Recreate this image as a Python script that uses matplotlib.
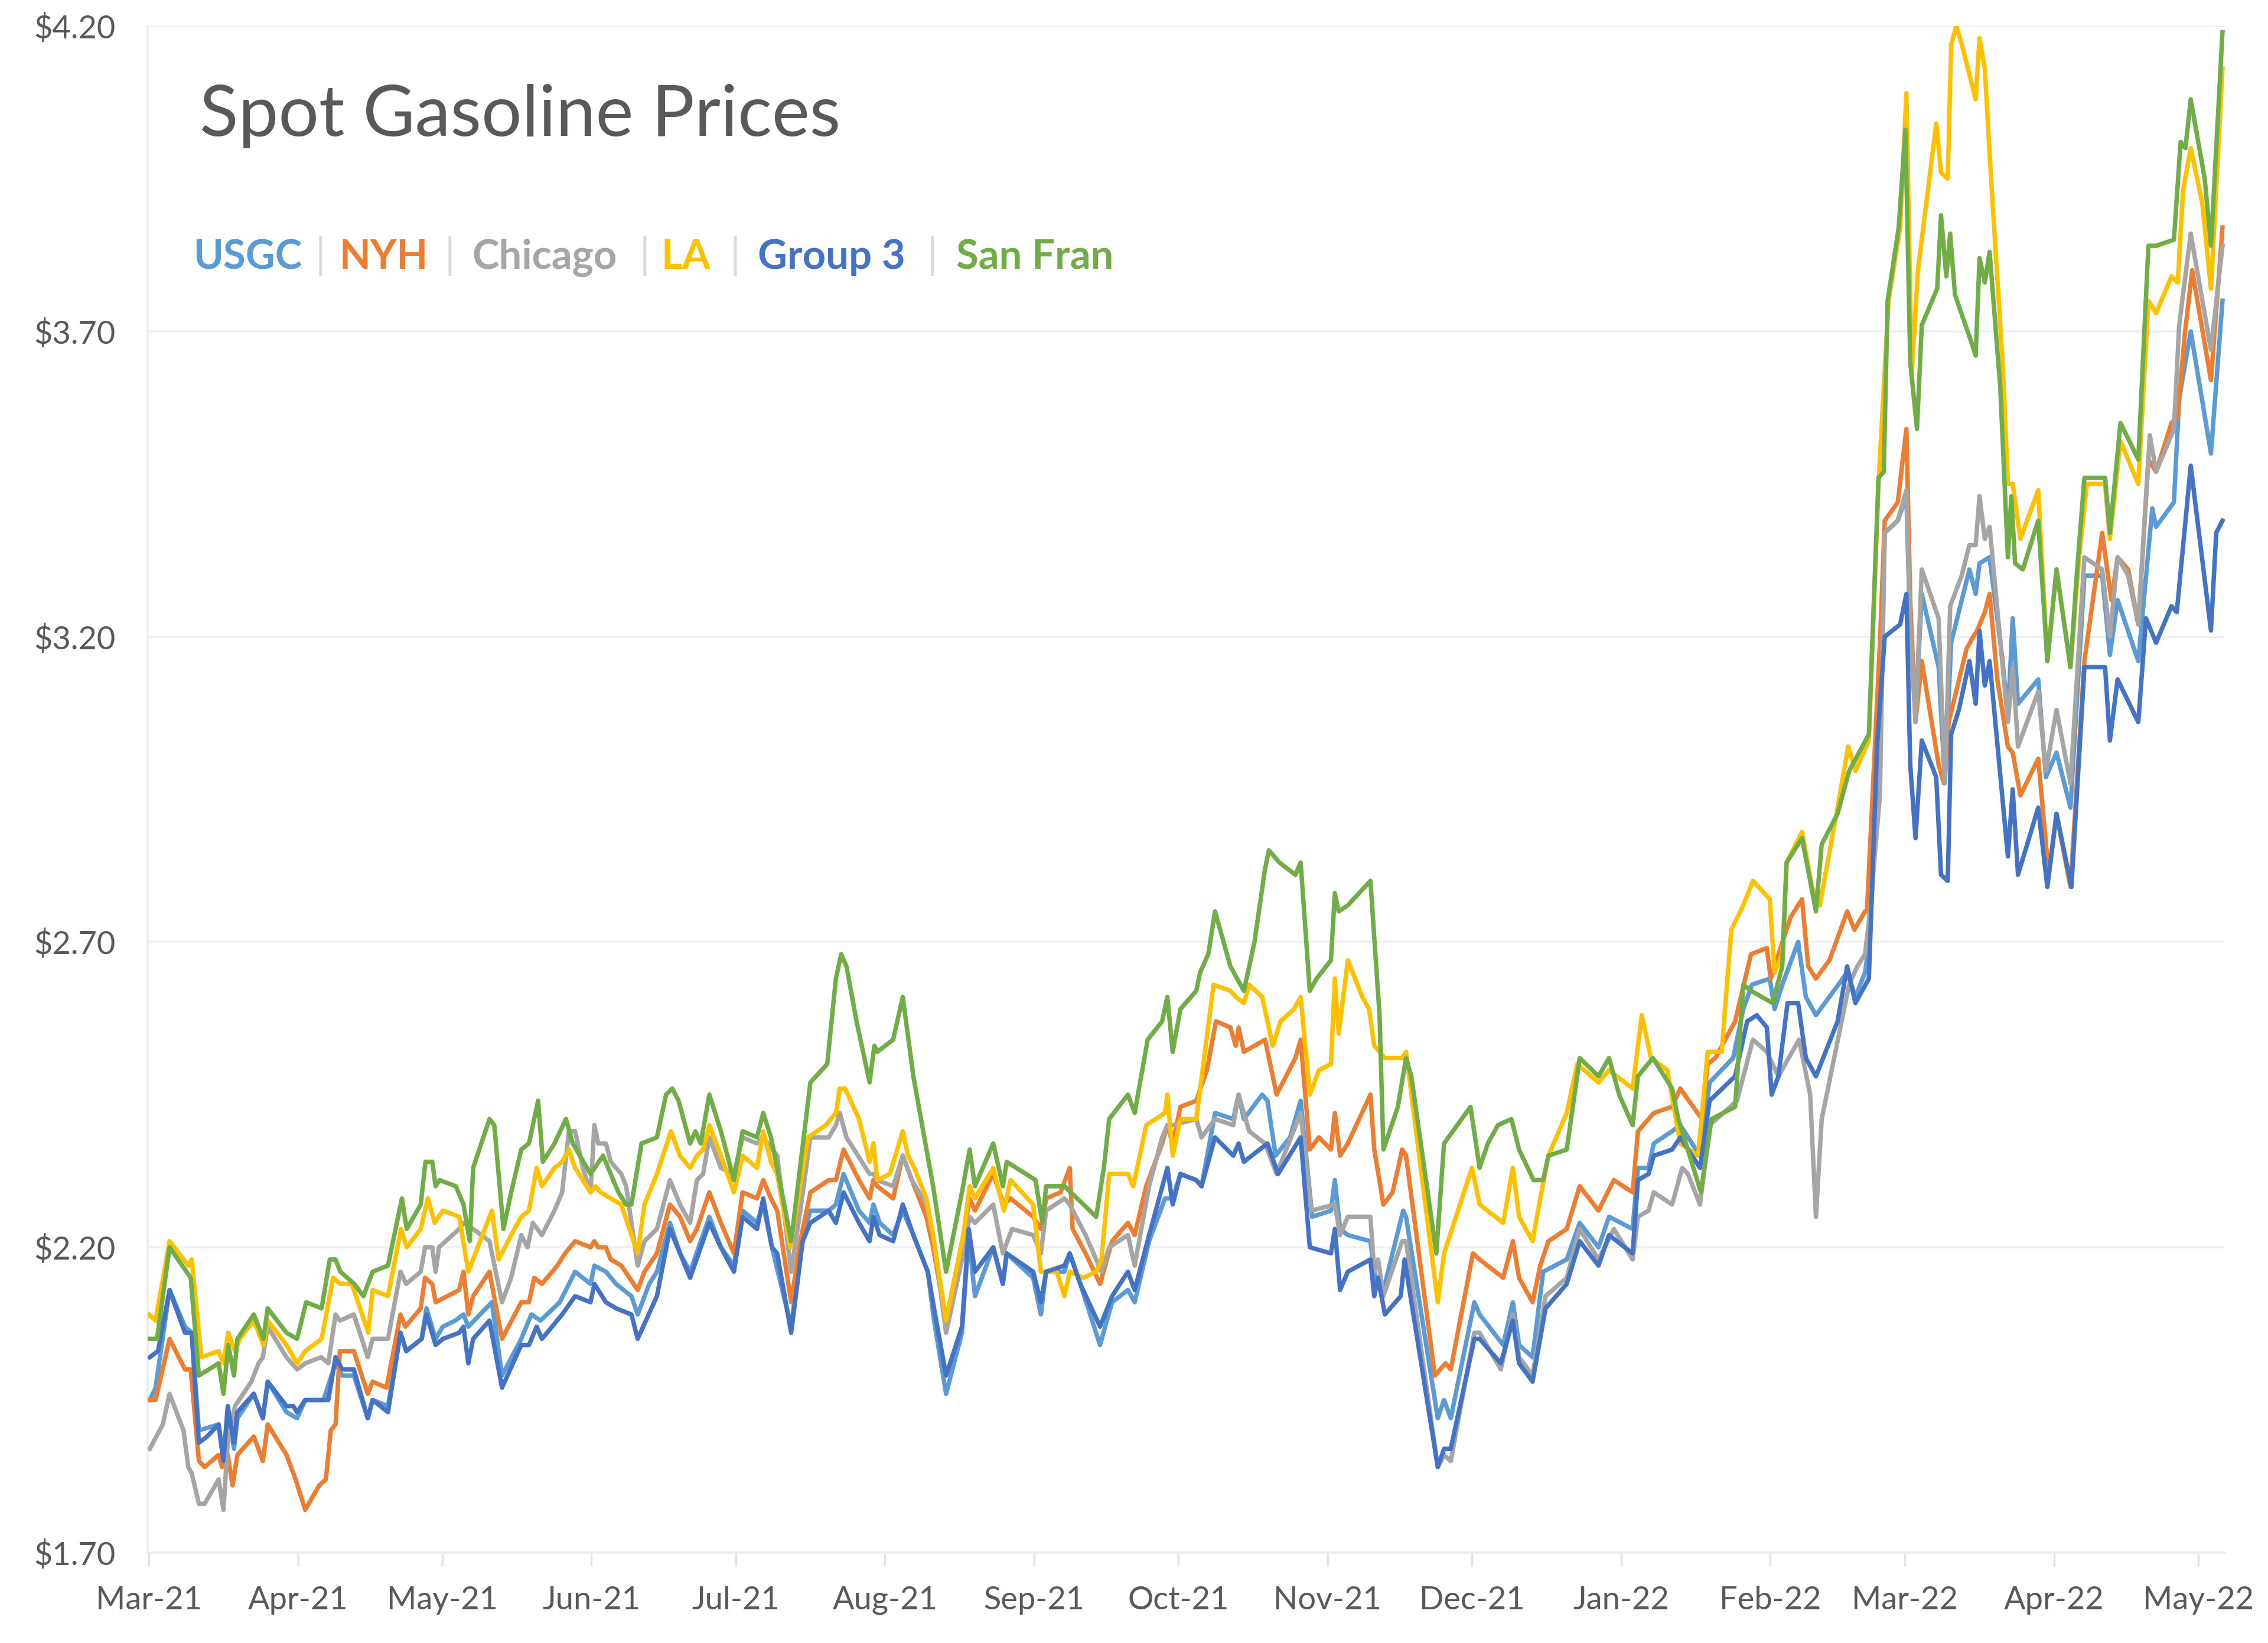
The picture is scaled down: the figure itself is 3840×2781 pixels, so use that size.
import numpy as np
import pandas as pd
import matplotlib
matplotlib.use("Agg")
from matplotlib import pyplot as plt
import matplotlib.dates as mdates
from matplotlib.ticker import FuncFormatter

# days after 2021-03-01, price in $/gal
usgc_day = [0.2, 1.4, 4.3, 7.5, 8.9, 10.4, 14.5, 15.5, 16.4, 17.7, 18.4, 21.8, 23.7, 24.7, 28.6, 30.8, 32.5, 36.3, 38.8, 40.2,
            42.6, 45.5, 46.5, 49.7, 52.3, 53.5, 56.7, 57.7, 59.6, 61.1, 63.7, 65.4, 66.4, 71.3, 73.4,
            77.4, 79.5, 81.4, 85.4, 88.6, 91.8, 92.6, 95.0, 97.1, 100.3, 101.6, 104.0, 105.6, 108.3, 110.4, 112.5, 116.5, 118.9, 121.6, 123.4,
            126.4, 127.7, 129.5, 133.5, 135.9, 137.5, 141.3, 142.8, 144.4, 147.6, 149.8, 150.6, 151.9,
            154.7, 156.7, 158.9, 161.9, 163.2, 165.7, 169.0, 170.4, 171.7, 175.5, 177.5, 178.3, 183.8, 185.4, 186.5, 190.3, 191.4, 193.6, 197.7, 200.2,
            203.5, 204.9, 207.9, 211.2, 212.8, 214.4, 217.7, 218.8, 221.6, 225.4, 226.5, 227.6, 231.4, 232.5, 234.2,
            237.2, 239.4, 241.8, 245.7, 246.5, 247.6, 249.2, 253.9, 254.7, 256.3, 260.7, 261.3, 267.9, 269.2, 270.6, 275.5, 276.6, 281.5, 283.5, 284.8,
            287.6, 289.8, 294.7, 297.4, 301.3, 303.5, 308.4, 309.5, 311.7, 312.8, 316.6,
            318.3, 322.4, 324.4, 329.3, 331.4, 333.2, 336.9, 337.9, 339.5, 342.8, 344.4, 346.5, 353.0, 354.7, 356.7,
            357.6, 359.8, 360.8, 363.5, 365.3, 366.1, 367.2, 368.5, 372.0, 373.3, 374.6, 378.4, 379.7, 380.5, 382.6, 385.3, 386.4, 387.4, 388.5, 392.7,
            394.3, 396.5, 399.4, 402.3, 406.0, 407.6, 409.2, 413.5, 416.4, 417.2, 420.9, 422.0, 424.4, 428.6, 431.0]
usgc_px = [1.95, 1.97, 2.13, 2.07, 2.06, 1.90, 1.91, 1.85, 1.93, 1.87, 1.92, 1.96, 1.92, 1.98, 1.93, 1.92, 1.95, 1.95, 2.01, 1.99,
           1.99, 1.92, 1.95, 1.94, 2.06, 2.03, 2.05, 2.10, 2.05, 2.07, 2.08, 2.09, 2.07, 2.11, 1.99,
           2.05, 2.09, 2.08, 2.11, 2.16, 2.14, 2.17, 2.16, 2.14, 2.12, 2.09, 2.14, 2.16, 2.24, 2.19, 2.16, 2.25, 2.20, 2.17, 2.26,
           2.24, 2.27, 2.20, 2.07, 2.22, 2.26, 2.26, 2.27, 2.32, 2.26, 2.24, 2.27, 2.24,
           2.22, 2.26, 2.22, 2.16, 2.08, 1.96, 2.06, 2.22, 2.12, 2.20, 2.14, 2.19, 2.15, 2.09, 2.16, 2.16, 2.19, 2.14, 2.04, 2.11,
           2.13, 2.11, 2.21, 2.28, 2.28, 2.32, 2.31, 2.30, 2.42, 2.41, 2.45, 2.41, 2.45, 2.44, 2.35,
           2.38, 2.44, 2.25, 2.26, 2.31, 2.23, 2.22, 2.21, 2.16, 2.12, 2.26, 2.25, 1.92, 1.95, 1.92, 2.11, 2.09, 2.04, 2.11, 2.04,
           2.02, 2.16, 2.18, 2.24, 2.20, 2.25, 2.23, 2.33, 2.33, 2.37, 2.39,
           2.40, 2.35, 2.47, 2.51, 2.59, 2.63, 2.64, 2.59, 2.63, 2.70, 2.61, 2.58, 2.65, 2.61, 2.65,
           2.70, 3.02, 3.37, 3.39, 3.43, 3.21, 3.07, 3.27, 3.15, 2.96, 3.19, 3.31, 3.27, 3.32, 3.33, 3.16, 3.07, 3.23, 3.09, 3.13,
           2.97, 3.01, 2.92, 3.30, 3.30, 3.17, 3.26, 3.16, 3.41, 3.38, 3.42, 3.59, 3.70, 3.50, 3.75]

nyh_day = [0.2, 1.4, 4.3, 7.5, 8.7, 10.4, 11.6, 14.5, 15.2, 16.4, 17.4, 18.4, 21.8, 23.7, 24.7, 28.6, 30.5, 32.5, 35.4, 36.8,
           37.8, 38.8, 39.7, 42.6, 45.5, 46.5, 49.4, 52.3, 53.3, 56.5, 57.4, 58.9, 59.6, 64.5, 65.4, 66.4, 67.4, 70.8, 73.4,
           77.4, 79.0, 80.1, 81.7, 84.9, 86.5, 88.6, 91.8, 92.6, 93.4, 95.0, 96.0, 98.2, 101.6, 103.0, 105.6, 108.3, 110.4, 112.5, 113.9,
           116.5, 118.9, 121.6, 123.4, 126.4, 127.7, 129.3, 130.6, 133.5, 135.4, 137.5, 141.3, 142.8, 144.4, 147.6, 149.8, 150.6, 151.4,
           154.7, 156.7, 158.6, 161.6, 163.0, 165.7, 169.3, 170.6, 171.7, 175.5, 177.7, 179.1, 183.8, 185.4, 186.5, 189.5, 191.4, 192.0, 194.7, 197.7,
           200.2, 203.5, 204.9, 207.3, 210.6, 211.7, 212.8, 214.4, 217.7, 219.9, 221.8, 224.8, 225.9, 226.5, 227.6, 232.0, 234.4,
           238.3, 239.4, 241.3, 243.2, 245.7, 246.5, 247.6, 249.2, 253.9, 254.7, 256.6, 258.5, 260.5, 261.3, 267.3, 269.5, 270.6, 275.2, 276.6, 281.5,
           283.5, 284.8, 287.6, 289.2, 290.9, 294.7, 297.4, 301.3, 304.5, 308.4, 309.5, 311.7, 312.8, 316.6,
           318.3, 322.8, 324.0, 325.6, 329.7, 333.0, 336.3, 337.1, 341.2, 343.6, 344.9, 346.5, 349.3, 353.0, 354.5, 356.7,
           357.1, 359.8, 360.8, 363.5, 365.3, 366.1, 367.2, 368.5, 372.0, 373.1, 374.1, 377.8, 379.2, 380.0, 381.6, 382.6, 384.2, 386.4, 387.4, 389.0,
           392.7, 394.9, 396.5, 399.4, 402.3, 406.0, 407.9, 409.2, 411.4, 413.5, 415.6, 417.2, 420.4, 421.7, 423.1, 424.7, 428.6, 431.0]
nyh_px = [1.95, 1.95, 2.05, 2.00, 2.00, 1.85, 1.84, 1.86, 1.84, 1.86, 1.81, 1.86, 1.89, 1.85, 1.91, 1.86, 1.82, 1.77, 1.81, 1.82,
          1.90, 1.91, 2.03, 2.03, 1.96, 1.98, 1.97, 2.09, 2.07, 2.10, 2.15, 2.14, 2.11, 2.13, 2.16, 2.09, 2.12, 2.16, 2.05,
          2.11, 2.11, 2.15, 2.14, 2.17, 2.19, 2.21, 2.20, 2.21, 2.20, 2.20, 2.18, 2.17, 2.13, 2.16, 2.19, 2.27, 2.25, 2.21, 2.23,
          2.29, 2.24, 2.19, 2.29, 2.28, 2.31, 2.28, 2.26, 2.11, 2.21, 2.29, 2.31, 2.31, 2.36, 2.31, 2.28, 2.31, 2.30,
          2.28, 2.35, 2.31, 2.25, 2.20, 2.08, 2.22, 2.28, 2.26, 2.32, 2.27, 2.28, 2.25, 2.23, 2.28, 2.29, 2.33, 2.23, 2.19, 2.14,
          2.21, 2.24, 2.22, 2.30, 2.37, 2.40, 2.37, 2.43, 2.44, 2.49, 2.57, 2.56, 2.53, 2.56, 2.52, 2.54, 2.45,
          2.51, 2.54, 2.36, 2.38, 2.36, 2.42, 2.35, 2.37, 2.45, 2.36, 2.27, 2.29, 2.36, 2.35, 1.99, 2.01, 2.00, 2.19, 2.18, 2.15,
          2.21, 2.15, 2.11, 2.17, 2.21, 2.23, 2.30, 2.26, 2.31, 2.29, 2.39, 2.41, 2.42, 2.43,
          2.46, 2.41, 2.50, 2.51, 2.57, 2.68, 2.69, 2.64, 2.74, 2.77, 2.66, 2.64, 2.67, 2.75, 2.72, 2.75,
          2.75, 3.19, 3.39, 3.42, 3.54, 3.26, 3.06, 3.16, 2.99, 2.96, 3.06, 3.18, 3.20, 3.21, 3.24, 3.27, 3.13, 3.02, 3.01, 2.94,
          3.00, 2.81, 2.91, 2.79, 3.16, 3.37, 3.26, 3.33, 3.31, 3.22, 3.49, 3.47, 3.55, 3.56, 3.69, 3.80, 3.62, 3.87]

chi_day = [0.2, 2.9, 4.3, 7.2, 8.2, 8.9, 10.4, 11.6, 14.5, 15.5, 16.4, 17.9, 21.3, 22.8, 23.7, 24.7, 28.6, 30.8, 32.5, 35.8,
           37.3, 38.8, 39.7, 42.6, 45.5, 46.5, 49.7, 52.3, 53.5, 56.5, 57.4, 58.9, 59.6, 60.3, 64.5, 65.4, 67.4, 70.8, 73.4,
           75.3, 77.4, 78.7, 79.8, 81.7, 84.3, 85.9, 87.3, 88.6, 90.2, 91.8, 92.6, 93.4, 95.0, 96.0, 98.2, 99.2, 101.6, 103.0, 105.6,
           108.3, 110.4, 112.5, 113.9, 115.2, 116.5, 118.9, 121.6, 123.4, 126.4, 127.7, 130.6, 133.5, 135.4, 137.5, 141.3, 142.8, 143.6, 145.0, 149.8,
           150.6, 151.4,
           154.7, 156.7, 158.6, 161.6, 163.0, 165.7, 169.3, 170.6, 171.7, 175.5, 177.5, 179.4, 183.8, 185.4, 186.5, 190.3, 191.4, 194.7, 198.0, 199.6,
           203.5, 204.9, 207.9, 210.6, 211.7, 212.8, 217.7, 218.8, 221.6, 225.4, 226.5, 228.7, 232.0, 234.4,
           239.4, 241.6, 246.5, 247.6, 249.2, 253.9, 254.7, 255.5, 256.6, 260.5, 261.3, 267.9, 269.2, 270.6, 275.5, 276.6, 281.0, 283.5, 284.8, 287.6,
           290.3, 294.7, 297.4, 301.3, 304.5, 308.4, 309.5, 311.7, 312.8, 316.6,
           318.7, 319.9, 322.4, 324.4, 330.1, 333.4, 336.3, 338.7, 343.0, 345.3, 346.5, 347.7, 353.4, 355.1, 356.7,
           357.6, 359.8, 360.8, 363.5, 365.3, 366.1, 367.2, 368.5, 372.0, 373.3, 374.4, 376.8, 378.4, 379.7, 380.5, 381.6, 382.6, 386.4, 387.4, 388.5,
           392.7, 394.3, 396.5, 399.4, 402.3, 406.0, 407.6, 409.2, 411.4, 413.5, 415.9, 417.2, 420.9, 422.0, 424.4, 428.6, 431.0]
chi_px = [1.87, 1.91, 1.96, 1.90, 1.84, 1.83, 1.78, 1.78, 1.82, 1.77, 1.88, 1.94, 1.98, 2.01, 2.02, 2.07, 2.02, 2.00, 2.01, 2.02,
          2.01, 2.09, 2.08, 2.09, 2.02, 2.05, 2.05, 2.16, 2.14, 2.16, 2.20, 2.20, 2.16, 2.20, 2.23, 2.24, 2.23, 2.21, 2.11,
          2.15, 2.22, 2.20, 2.24, 2.22, 2.26, 2.29, 2.39, 2.39, 2.33, 2.29, 2.40, 2.37, 2.37, 2.34, 2.32, 2.30, 2.17, 2.21, 2.23,
          2.31, 2.27, 2.24, 2.31, 2.32, 2.38, 2.33, 2.32, 2.38, 2.37, 2.38, 2.35, 2.16, 2.26, 2.38, 2.38, 2.40, 2.42, 2.38, 2.32,
          2.32, 2.31,
          2.30, 2.35, 2.31, 2.27, 2.22, 2.06, 2.19, 2.25, 2.24, 2.27, 2.19, 2.23, 2.22, 2.19, 2.26, 2.28, 2.27, 2.22, 2.16, 2.20,
          2.22, 2.17, 2.30, 2.38, 2.40, 2.40, 2.41, 2.38, 2.41, 2.40, 2.45, 2.39, 2.37, 2.32,
          2.42, 2.26, 2.27, 2.22, 2.25, 2.25, 2.16, 2.18, 2.12, 2.21, 2.21, 1.84, 1.86, 1.85, 2.06, 2.06, 2.00, 2.09, 2.02, 1.99,
          2.12, 2.15, 2.23, 2.18, 2.23, 2.18, 2.25, 2.26, 2.29, 2.27,
          2.33, 2.32, 2.27, 2.40, 2.44, 2.54, 2.52, 2.48, 2.54, 2.45, 2.25, 2.41, 2.63, 2.66, 2.68,
          2.74, 2.94, 3.37, 3.39, 3.44, 3.21, 3.06, 3.31, 3.23, 2.96, 3.25, 3.30, 3.35, 3.35, 3.43, 3.36, 3.38, 3.06, 3.15, 3.02,
          3.11, 2.98, 3.08, 2.96, 3.33, 3.31, 3.20, 3.33, 3.30, 3.22, 3.53, 3.47, 3.54, 3.71, 3.86, 3.67, 3.84]

la_day = [0.0, 1.4, 4.3, 8.2, 8.9, 10.9, 14.5, 15.5, 16.5, 17.9, 18.9, 21.8, 23.8, 24.7, 28.6, 30.8, 32.5, 35.9, 38.3, 39.8,
          42.2, 45.6, 46.5, 49.7, 52.4, 53.6, 56.5, 58.0, 59.4, 61.1, 64.5, 66.4, 71.3, 72.7,
          75.3, 77.4, 79.0, 80.6, 81.7, 84.3, 85.9, 87.3, 88.6, 91.8, 92.8, 93.9, 96.0, 98.2, 100.3, 101.6, 103.0, 105.6, 108.5, 110.4,
          112.5, 113.9, 115.2, 116.5, 118.9, 121.6, 123.4, 126.4, 127.7, 129.3, 130.6, 133.3, 137.0, 140.7, 142.8, 143.6, 144.7, 147.6, 149.8, 150.6,
          151.4, 154.0,
          156.7, 157.8, 159.1, 161.6, 163.0, 165.7, 169.3, 170.6, 171.7, 175.5, 177.7, 179.1, 183.8, 185.4, 188.7, 190.3, 191.4, 194.2, 196.9, 198.0,
          199.6, 203.5, 204.6, 205.7, 207.3, 211.2, 211.7, 212.8, 214.4, 217.7, 221.3, 224.8, 225.9, 227.6, 228.7, 231.4, 233.6, 235.2, 238.0,
          239.4, 241.3, 243.2, 245.7, 246.5, 247.3, 249.2, 252.2, 253.6, 254.7, 256.9, 260.5, 261.3, 267.9, 269.2, 275.0, 276.6, 281.5, 283.5, 284.8,
          287.6, 289.2, 290.9, 294.7, 296.9, 301.3, 303.5, 308.4, 310.3, 312.2, 315.6,
          318.3, 322.0, 324.0, 326.9, 328.9, 331.4, 333.4, 336.9, 337.9, 339.5, 340.4, 343.6, 345.7, 347.3, 351.0, 353.2, 354.7, 357.5,
          359.5, 361.6, 364.0, 365.3, 366.4, 367.7, 371.5, 372.5, 373.9, 374.6, 375.7, 376.8, 379.7, 380.5, 381.6, 382.9, 385.3, 386.4, 387.4, 389.0,
          392.7, 394.6, 396.5, 399.4, 401.2, 402.8, 406.6, 407.6, 409.8, 413.5, 415.6, 417.2, 420.4, 421.7, 422.8, 424.4, 426.8, 428.6, 431.0]
la_px = [2.09, 2.08, 2.21, 2.17, 2.18, 2.02, 2.03, 2.01, 2.06, 2.03, 2.05, 2.08, 2.04, 2.08, 2.04, 2.01, 2.03, 2.05, 2.15, 2.14,
         2.14, 2.06, 2.13, 2.12, 2.23, 2.20, 2.23, 2.28, 2.24, 2.26, 2.25, 2.16, 2.26, 2.18,
         2.22, 2.25, 2.26, 2.33, 2.30, 2.33, 2.34, 2.36, 2.33, 2.29, 2.30, 2.29, 2.28, 2.27, 2.22, 2.19, 2.27, 2.32, 2.39, 2.35,
         2.33, 2.35, 2.36, 2.40, 2.35, 2.29, 2.35, 2.33, 2.39, 2.34, 2.32, 2.20, 2.38, 2.40, 2.42, 2.46, 2.46, 2.41, 2.34, 2.37,
         2.31, 2.32,
         2.39, 2.35, 2.33, 2.28, 2.22, 2.08, 2.22, 2.30, 2.28, 2.33, 2.26, 2.31, 2.27, 2.16, 2.16, 2.12, 2.16, 2.15, 2.16, 2.18,
         2.32, 2.32, 2.30, 2.34, 2.40, 2.42, 2.45, 2.35, 2.41, 2.41, 2.63, 2.62, 2.61, 2.60, 2.63, 2.61, 2.53, 2.57, 2.59,
         2.61, 2.45, 2.49, 2.50, 2.64, 2.55, 2.67, 2.61, 2.59, 2.53, 2.51, 2.51, 2.52, 2.11, 2.19, 2.33, 2.27, 2.24, 2.33, 2.25,
         2.21, 2.28, 2.35, 2.42, 2.50, 2.47, 2.49, 2.46, 2.58, 2.51, 2.49,
         2.37, 2.35, 2.52, 2.52, 2.72, 2.76, 2.80, 2.77, 2.65, 2.68, 2.83, 2.88, 2.79, 2.76, 2.92, 3.02, 2.98, 3.03,
         3.45, 3.75, 3.87, 4.09, 3.63, 3.80, 4.04, 3.96, 3.95, 4.17, 4.20, 4.17, 4.08, 4.18, 4.13, 3.95, 3.65, 3.45, 3.45, 3.36,
         3.44, 3.16, 3.31, 3.15, 3.33, 3.45, 3.45, 3.36, 3.52, 3.45, 3.75, 3.73, 3.79, 3.78, 3.93, 4.00, 3.91, 3.77, 4.13]

g3_day = [0.2, 1.9, 4.3, 7.5, 8.9, 10.4, 12.1, 14.5, 15.5, 16.4, 17.7, 18.4, 21.8, 23.7, 24.7, 28.6, 30.0, 30.8, 32.5, 37.3,
          38.8, 40.2, 42.6, 45.5, 46.5, 49.7, 52.3, 53.5, 56.7, 57.7, 59.6, 61.1, 64.5, 65.4, 66.4, 67.4, 70.8, 73.4,
          77.4, 79.0, 80.6, 81.7, 85.9, 88.6, 91.8, 92.6, 95.0, 97.1, 100.3, 101.6, 105.6, 108.3, 110.4, 112.5, 116.5, 118.9, 121.6, 123.4,
          126.4, 127.7, 129.5, 130.6, 133.5, 135.9, 137.5, 141.3, 142.8, 144.4, 147.6, 149.8, 150.6, 151.9,
          154.7, 156.7, 158.9, 161.9, 163.2, 165.7, 169.0, 170.4, 171.7, 175.5, 177.5, 178.3, 183.8, 185.4, 186.5, 190.3, 191.4, 193.6, 197.7, 200.2,
          203.5, 204.9, 207.9, 211.7, 212.8, 214.4, 217.7, 218.8, 221.6, 225.4, 226.5, 227.6, 232.5, 234.7,
          239.4, 241.3, 245.7, 246.5, 247.6, 249.2, 253.9, 254.7, 255.5, 256.9, 260.2, 261.0, 267.9, 269.2, 270.6, 275.5, 276.6, 281.0, 283.5, 284.8,
          287.6, 290.3, 294.7, 297.4, 301.3, 303.5, 308.4, 309.5, 311.7, 312.8, 316.6,
          318.3, 322.4, 324.4, 329.7, 332.2, 334.2, 336.3, 337.3, 338.7, 340.6, 342.8, 344.4, 346.5, 351.0, 353.0, 354.7, 357.5,
          359.2, 360.8, 364.0, 365.3, 366.1, 367.2, 368.5, 371.5, 372.5, 373.9, 374.6, 376.2, 378.4, 379.7, 380.5, 381.6, 382.6, 386.4, 387.4, 388.5,
          392.7, 394.6, 396.5, 399.6, 402.3, 406.6, 407.6, 409.2, 413.5, 415.1, 417.2, 420.4, 421.5, 424.4, 428.6, 429.7, 431.0]
g3_px = [2.02, 2.03, 2.13, 2.06, 2.06, 1.88, 1.89, 1.91, 1.85, 1.94, 1.88, 1.93, 1.96, 1.92, 1.98, 1.94, 1.94, 1.93, 1.95, 1.95,
         2.02, 2.00, 2.00, 1.92, 1.95, 1.93, 2.06, 2.03, 2.05, 2.09, 2.04, 2.05, 2.06, 2.07, 2.01, 2.05, 2.08, 1.97,
         2.04, 2.04, 2.07, 2.05, 2.09, 2.12, 2.11, 2.14, 2.11, 2.10, 2.09, 2.05, 2.12, 2.23, 2.19, 2.15, 2.24, 2.20, 2.16, 2.25,
         2.23, 2.28, 2.20, 2.19, 2.06, 2.21, 2.24, 2.26, 2.24, 2.29, 2.24, 2.21, 2.25, 2.22,
         2.21, 2.27, 2.22, 2.16, 2.10, 1.99, 2.07, 2.23, 2.16, 2.20, 2.14, 2.19, 2.16, 2.11, 2.16, 2.17, 2.19, 2.14, 2.07, 2.12,
         2.16, 2.13, 2.22, 2.33, 2.27, 2.32, 2.31, 2.30, 2.38, 2.35, 2.37, 2.34, 2.37, 2.32,
         2.38, 2.20, 2.19, 2.23, 2.13, 2.16, 2.18, 2.12, 2.15, 2.09, 2.12, 2.18, 1.84, 1.87, 1.87, 2.05, 2.05, 2.01, 2.08, 2.01,
         1.98, 2.10, 2.14, 2.21, 2.17, 2.22, 2.19, 2.31, 2.32, 2.35, 2.36,
         2.38, 2.33, 2.44, 2.48, 2.57, 2.58, 2.56, 2.45, 2.48, 2.60, 2.60, 2.51, 2.48, 2.57, 2.66, 2.60, 2.64,
         3.02, 3.20, 3.22, 3.27, 2.99, 2.87, 3.03, 2.97, 2.81, 2.80, 3.04, 3.08, 3.16, 3.09, 3.21, 3.12, 3.16, 2.84, 2.95, 2.81,
         2.92, 2.79, 2.91, 2.79, 3.15, 3.15, 3.03, 3.13, 3.06, 3.23, 3.19, 3.25, 3.24, 3.48, 3.21, 3.37, 3.39]

sf_day = [0.2, 1.7, 4.3, 8.7, 10.4, 14.5, 15.5, 16.5, 17.7, 18.4, 21.8, 23.8, 24.7, 28.6, 30.8, 32.7, 35.9, 37.6, 38.8, 39.8,
          42.7, 44.6, 46.5, 49.7, 52.6, 53.6, 56.5, 57.5, 58.9, 59.6, 60.4, 63.8, 65.4, 66.7, 67.4, 70.8, 71.8,
          73.7, 75.3, 77.4, 79.0, 80.9, 81.9, 84.3, 86.7, 88.1, 91.8, 94.4, 97.6, 99.2, 100.3, 102.4, 105.6, 107.5, 108.8, 110.1, 112.5,
          113.6, 114.7, 116.5, 118.9, 121.6, 123.4, 126.4, 127.7, 129.3, 130.6, 133.5, 137.5, 141.0, 142.8, 143.9, 145.0, 147.1, 149.8, 150.8, 151.4,
          154.7, 156.7, 158.9, 163.0, 165.7, 169.0, 170.6, 171.7, 175.5, 177.5, 178.3, 184.3, 185.7, 186.5, 190.3, 196.9, 198.5, 199.6, 203.5, 204.9,
          207.6, 210.6, 211.7, 212.8, 214.4, 217.7, 218.5, 220.2, 221.6, 224.8, 227.6, 229.8, 232.0,
          232.8, 235.0, 238.3, 239.4, 241.3, 242.7, 245.7, 246.5, 247.3, 249.2, 253.9, 255.8, 256.6, 259.6, 261.3, 262.4, 267.6, 269.2, 274.7, 276.6,
          278.3, 280.4, 283.2, 284.8, 287.8, 289.8, 290.9, 294.7, 297.4, 301.3, 303.5, 305.6, 308.4, 309.5,
          312.6, 316.6, 317.9, 322.6, 324.8, 329.7, 331.4, 333.0, 337.5, 339.5, 340.4, 343.6, 345.3, 346.5, 347.7, 351.0, 353.4, 357.5,
          359.5, 360.6, 361.4, 363.7, 365.1, 366.1, 367.5, 368.5, 371.7, 372.5, 373.6, 374.4, 375.4, 378.9, 379.7, 380.5, 381.6, 382.6, 384.8, 386.4,
          387.1, 387.9, 389.5, 392.7, 394.6, 396.5, 399.4, 400.7, 402.3, 406.6, 407.6, 409.8, 413.5, 415.6, 417.2, 420.9, 422.3, 423.3, 424.4, 427.3,
          428.6, 431.0]
sf_px = [2.05, 2.05, 2.20, 2.15, 1.99, 2.01, 1.96, 2.04, 1.99, 2.05, 2.09, 2.05, 2.10, 2.06, 2.05, 2.11, 2.10, 2.18, 2.18, 2.16,
         2.14, 2.12, 2.16, 2.17, 2.28, 2.23, 2.27, 2.34, 2.34, 2.30, 2.31, 2.30, 2.27, 2.21, 2.33, 2.41, 2.40,
         2.23, 2.29, 2.36, 2.37, 2.44, 2.34, 2.37, 2.41, 2.37, 2.32, 2.35, 2.29, 2.27, 2.27, 2.37, 2.38, 2.45, 2.46, 2.44, 2.37,
         2.39, 2.37, 2.45, 2.39, 2.31, 2.39, 2.38, 2.42, 2.38, 2.33, 2.21, 2.47, 2.50, 2.64, 2.68, 2.66, 2.57, 2.47, 2.53, 2.52,
         2.54, 2.61, 2.48, 2.30, 2.16, 2.29, 2.36, 2.30, 2.37, 2.30, 2.34, 2.31, 2.24, 2.30, 2.30, 2.25, 2.33, 2.41, 2.45, 2.42,
         2.54, 2.57, 2.61, 2.52, 2.59, 2.62, 2.65, 2.68, 2.75, 2.66, 2.62, 2.70, 2.82,
         2.85, 2.83, 2.81, 2.83, 2.62, 2.64, 2.67, 2.78, 2.75, 2.76, 2.80, 2.58, 2.36, 2.43, 2.51, 2.48, 2.19, 2.37, 2.43, 2.33,
         2.37, 2.40, 2.41, 2.36, 2.31, 2.31, 2.35, 2.36, 2.51, 2.48, 2.51, 2.45, 2.40, 2.48,
         2.51, 2.46, 2.41, 2.29, 2.41, 2.43, 2.63, 2.62, 2.60, 2.66, 2.83, 2.87, 2.80, 2.75, 2.86, 2.91, 2.98, 3.04,
         3.46, 3.47, 3.75, 3.87, 4.03, 3.65, 3.54, 3.71, 3.77, 3.89, 3.79, 3.86, 3.76, 3.68, 3.66, 3.82, 3.78, 3.83, 3.61, 3.33,
         3.43, 3.32, 3.31, 3.39, 3.16, 3.31, 3.15, 3.30, 3.46, 3.46, 3.37, 3.55, 3.49, 3.84, 3.84, 3.85, 4.01, 4.00, 4.08, 3.95,
         3.84, 4.19]

names = ["USGC", "NYH", "Chicago", "LA", "Group 3", "San Fran"]
colors = ["#5B9BD5", "#ED7D31", "#A5A5A5", "#FFC000", "#4472C4", "#70AD47"]
series = [(usgc_day, usgc_px), (nyh_day, nyh_px), (chi_day, chi_px),
          (la_day, la_px), (g3_day, g3_px), (sf_day, sf_px)]

y_ticks = [1.70, 2.20, 2.70, 3.20, 3.70, 4.20]
start = pd.Timestamp("2021-03-01")

plt.rcParams['font.family'] = ['Lato', 'DejaVu Sans']

W, H = 3840, 2781
fig = plt.figure(figsize=(W / 300, H / 300), dpi=300)
ax = fig.add_axes([250 / W, 1 - 2628 / H, (3767 - 250) / W, (2628 - 44) / H])

for (d, v), name, col in zip(series, names, colors):
    x = start + pd.to_timedelta(np.array(d), unit="D")
    ax.plot(x, v, color=col, lw=1.8, solid_joinstyle="round", label=name, zorder=3)

ax.set_ylim(1.70, 4.20)
ax.set_yticks(y_ticks)
ax.yaxis.set_major_formatter(FuncFormatter(lambda v, p: "${:.2f}".format(v)))
ax.set_xlim(start - pd.Timedelta(hours=6), start + pd.Timedelta(days=431.5))
ax.set_xticks(pd.date_range("2021-03-01", "2022-05-01", freq="MS"))
ax.xaxis.set_major_formatter(mdates.DateFormatter("%b-%y"))

ax.yaxis.grid(True, color="#F0F0F0", lw=0.9, zorder=0)
ax.tick_params(axis="y", length=0, pad=13, labelsize=13, labelcolor="#595959")
ax.tick_params(axis="x", length=5.5, width=0.8, color="#E3E3E3", pad=8, labelsize=13, labelcolor="#595959")
for s in ["top", "right"]:
    ax.spines[s].set_visible(False)
for s in ["left", "bottom"]:
    ax.spines[s].set_color("#EDEDED")
    ax.spines[s].set_linewidth(0.9)

# title and the coloured text legend (centres of the words / bars in pixels)
fig.text(338 / W, 1 - 230 / H, "Spot Gasoline Prices", fontsize=29, color="#595959", va="baseline")

base_y = 1 - 455 / H
word_x = [419, 650, 922, 1161, 1408, 1752]
bar_x = [542, 761, 1091, 1244, 1578]
for name, col, cx in zip(names, colors, word_x):
    fig.text(cx / W, base_y, name, fontsize=16.5, color=col, fontweight="bold", ha="center", va="baseline")
for bx in bar_x:
    fig.text(bx / W, base_y, "|", fontsize=17, color="#D9D9D9", ha="center", va="baseline")

fig.savefig("out.png", dpi=300, facecolor="white")
